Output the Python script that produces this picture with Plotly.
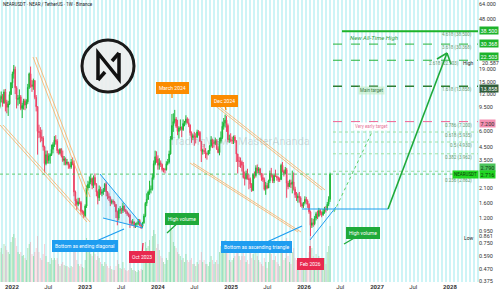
import math
import pandas as pd
import plotly.graph_objects as go

# ---------------- data (weekly NEAR/USDT) ----------------
first_open = 9.5
close = [
    11.0, 11.5, 10.2, 12.5, 10.3,      # 2021-11
    9.4, 10.0, 11.9, 14.8,             # 2021-12
    17.5, 19.0, 13.5, 10.9, 11.0,      # 2022-01
    11.4, 9.2, 9.7, 10.6,              # 2022-02
    9.8, 10.4, 13.6, 17.5,             # 2022-03
    14.3, 13.8, 15.4, 11.3,            # 2022-04
    9.5, 6.0, 5.9, 5.4, 5.3,           # 2022-05
    4.5, 3.3, 3.9, 3.5,                # 2022-06
    3.8, 3.9, 4.3, 4.7,                # 2022-07
    5.1, 5.0, 4.2, 4.0, 4.3,           # 2022-08
    3.8, 3.5, 3.6, 3.3,                # 2022-09
    3.4, 3.2, 3.1, 3.4, 3.3,           # 2022-10
    1.95, 1.65, 1.55, 1.62,            # 2022-11
    1.60, 1.35, 1.35, 1.25,            # 2022-12
    1.50, 2.10, 2.25, 2.35, 2.50,      # 2023-01
    2.20, 2.55, 2.25, 1.95,            # 2023-02
    1.75, 2.05, 1.90, 1.95,            # 2023-03
    2.00, 2.25, 1.95, 1.80,            # 2023-04
    1.75, 1.60, 1.65, 1.62, 1.55,      # 2023-05
    1.35, 1.20, 1.40, 1.40,            # 2023-06
    1.38, 1.50, 1.40, 1.35, 1.30,      # 2023-07
    1.27, 1.10, 1.10, 1.12,            # 2023-08
    1.05, 1.08, 1.08, 1.15,            # 2023-09
    1.05, 1.03, 1.10, 1.25, 1.58,      # 2023-10
    1.70, 1.95, 2.05, 2.05,            # 2023-11
    2.55, 3.30, 3.75, 3.60,            # 2023-12
    3.20, 3.35, 3.25, 2.95, 2.95,      # 2024-01
    2.95, 3.30, 3.40, 3.95,            # 2024-02
    5.20, 6.70, 7.20, 7.55,            # 2024-03
    6.60, 6.00, 6.40, 6.45, 6.20,      # 2024-04
    6.95, 7.10, 7.55, 7.05,            # 2024-05
    6.75, 5.85, 5.35, 5.55,            # 2024-06
    5.40, 5.40, 5.95, 5.90, 5.00,      # 2024-07
    4.15, 4.20, 4.15, 3.95,            # 2024-08
    3.95, 4.20, 4.60, 5.15, 4.90,      # 2024-09
    4.80, 5.05, 4.35, 4.05,            # 2024-10
    5.00, 5.35, 6.60, 7.00,            # 2024-11
    7.40, 6.70, 5.15, 5.20, 5.05,      # 2024-12
    5.05, 5.40, 5.05, 3.95,            # 2025-01
    3.45, 3.45, 3.40, 3.20,            # 2025-02
    2.55, 2.50, 2.75, 2.50, 2.45,      # 2025-03
    2.25, 2.00, 2.70, 2.65,            # 2025-04
    3.05, 2.90, 3.00, 2.75,            # 2025-05
    2.55, 2.45, 2.05, 2.20, 2.10,      # 2025-06
    2.40, 2.75, 2.65, 2.40,            # 2025-07
    2.65, 2.60, 2.55, 2.45,            # 2025-08
    2.45, 3.20, 2.85, 2.75, 2.95,      # 2025-09
    2.30, 2.15, 2.30, 2.25,            # 2025-10
    2.35, 2.05, 1.85, 1.75,            # 2025-11
    1.80, 1.75, 1.55, 1.50, 1.60,      # 2025-12
    1.70, 1.65, 1.55, 1.35,            # 2026-01
    1.05, 1.10, 1.08, 1.20,            # 2026-02
    1.30, 1.25, 1.38, 1.32, 1.28,      # 2026-03
    1.35, 1.42, 1.40, 1.55,            # 2026-04
    1.70, 2.716,                       # 2026-05
]
high = [
    11.8, 12.6, 12.0, 13.1, 13.2,
    10.8, 10.6, 12.6, 15.0,
    18.2, 20.587, 20.0, 13.9, 11.8,
    13.1, 11.8, 10.2, 11.0,
    11.0, 10.9, 14.5, 17.9,
    20.0, 15.6, 16.0, 15.6,
    11.8, 9.6, 6.8, 6.5, 6.2,
    5.5, 4.6, 4.2, 4.2,
    4.0, 4.0, 4.7, 4.9,
    5.5, 5.6, 5.2, 4.3, 4.4,
    4.4, 4.2, 3.8, 3.7,
    3.6, 3.4, 3.3, 3.6, 3.7,
    3.5, 2.0, 1.72, 1.75,
    1.75, 1.65, 1.4, 1.38,
    1.55, 2.20, 2.40, 2.60, 2.70,
    2.55, 2.65, 2.75, 2.30,
    2.00, 2.20, 2.15, 2.05,
    2.10, 2.30, 2.35, 1.98,
    1.90, 1.80, 1.70, 1.70, 1.65,
    1.55, 1.38, 1.45, 1.50,
    1.45, 1.60, 1.52, 1.42, 1.38,
    1.33, 1.30, 1.15, 1.18,
    1.12, 1.10, 1.12, 1.18,
    1.18, 1.08, 1.12, 1.30, 1.62,
    1.90, 2.00, 2.40, 2.20,
    2.75, 3.50, 4.20, 4.15,
    3.85, 3.65, 3.50, 3.30, 3.05,
    3.05, 3.45, 3.60, 4.20,
    5.50, 8.30, 8.40, 8.95,
    7.85, 7.45, 6.60, 7.50, 6.60,
    7.50, 7.30, 8.10, 7.80,
    7.60, 6.85, 6.00, 5.75,
    5.95, 5.80, 6.20, 6.15, 6.05,
    4.95, 4.35, 4.75, 4.40,
    4.05, 4.25, 4.65, 5.50, 5.25,
    5.15, 5.35, 5.20, 4.55,
    5.35, 6.00, 7.20, 7.70,
    8.20, 8.00, 6.95, 5.65, 5.80,
    5.45, 5.55, 5.60, 5.10,
    3.70, 3.75, 3.70, 3.50,
    3.40, 2.85, 2.90, 3.00, 2.70,
    2.55, 2.30, 2.75, 2.85,
    3.20, 3.25, 3.10, 3.05,
    2.75, 2.75, 2.55, 2.35, 2.30,
    2.45, 2.90, 3.05, 2.70,
    2.75, 2.95, 2.65, 2.60,
    2.55, 3.30, 3.40, 2.95, 3.10,
    3.05, 2.40, 2.45, 2.45,
    2.90, 2.80, 2.15, 1.95,
    1.90, 1.95, 1.80, 1.60, 1.62,
    1.80, 1.78, 1.70, 1.58,
    1.38, 1.20, 1.18, 1.25,
    1.35, 1.38, 1.45, 1.42, 1.36,
    1.42, 1.48, 1.50, 1.62,
    1.80, 2.79,
]
low = [
    9.2, 10.3, 9.5, 10.0, 8.7,
    8.4, 8.0, 9.8, 11.8,
    13.4, 16.0, 12.0, 9.2, 9.7,
    10.0, 8.9, 7.7, 9.0,
    8.9, 9.2, 10.0, 13.2,
    13.5, 12.5, 13.0, 10.9,
    8.7, 3.9, 5.3, 4.9, 5.0,
    4.2, 2.8, 3.2, 3.3,
    3.3, 3.3, 3.8, 4.0,
    4.5, 4.7, 4.0, 3.9, 3.9,
    3.7, 3.4, 3.2, 3.2,
    3.2, 3.0, 3.0, 3.0, 3.2,
    1.8, 1.5, 1.4, 1.5,
    1.55, 1.28, 1.28, 1.20,
    1.22, 1.45, 2.00, 2.10, 2.25,
    2.05, 2.10, 2.20, 1.80,
    1.55, 1.65, 1.85, 1.80,
    1.85, 1.95, 1.80, 1.70,
    1.65, 1.50, 1.55, 1.55, 1.48,
    1.20, 1.05, 1.15, 1.30,
    1.30, 1.32, 1.35, 1.30, 1.25,
    1.22, 1.00, 1.05, 1.06,
    1.00, 1.00, 1.04, 1.06,
    1.04, 0.98, 1.00, 1.08, 1.22,
    1.50, 1.68, 1.85, 1.90,
    2.00, 2.45, 3.20, 3.35,
    2.95, 2.95, 3.10, 2.85, 2.80,
    2.75, 2.90, 3.20, 3.30,
    3.90, 5.10, 5.95, 6.95,
    6.40, 5.60, 5.25, 6.10, 5.40,
    6.05, 6.60, 6.80, 6.95,
    6.50, 5.55, 4.85, 5.10,
    4.60, 4.80, 5.30, 5.55, 4.95,
    3.40, 3.90, 3.95, 3.65,
    3.55, 3.85, 3.95, 4.45, 4.40,
    4.45, 4.65, 4.25, 4.00,
    3.85, 4.80, 5.20, 6.20,
    6.45, 5.95, 4.90, 4.85, 4.90,
    4.75, 4.75, 4.85, 3.40,
    2.75, 3.10, 3.05, 2.85,
    2.50, 2.20, 2.45, 2.45, 2.05,
    2.10, 1.95, 2.00, 2.50,
    2.55, 2.75, 2.75, 2.65,
    2.40, 2.35, 2.00, 1.85, 2.05,
    2.10, 2.30, 2.55, 2.30,
    2.30, 2.60, 2.40, 2.35,
    2.35, 2.45, 2.80, 2.60, 2.70,
    1.75, 2.05, 2.15, 2.10,
    1.90, 2.00, 1.75, 1.65,
    1.60, 1.60, 1.48, 1.45, 1.45,
    1.55, 1.55, 1.45, 1.30,
    0.861, 1.00, 1.02, 1.05,
    1.15, 1.18, 1.22, 1.26, 1.22,
    1.25, 1.30, 1.33, 1.38,
    1.50, 1.62,
]
volume = [
    30, 34, 28, 38, 36,
    32, 30, 28, 40,
    45, 48, 44, 36, 30,
    28, 30, 26, 27,
    24, 22, 34, 38,
    40, 28, 26, 30,
    34, 46, 30, 24, 22,
    28, 38, 26, 20,
    20, 18, 24, 22,
    24, 22, 24, 18, 16,
    18, 20, 17, 16,
    16, 15, 14, 16, 15,
    40, 30, 22, 18,
    16, 18, 15, 14,
    22, 44, 36, 30, 28,
    26, 30, 28, 22,
    26, 24, 20, 18,
    16, 20, 18, 16,
    14, 16, 13, 12, 12,
    16, 22, 18, 14,
    13, 20, 14, 12, 11,
    12, 20, 14, 12,
    12, 11, 10, 12,
    11, 13, 12, 22, 40,
    34, 36, 42, 30,
    46, 52, 48, 34,
    38, 32, 26, 24, 20,
    18, 24, 22, 30,
    58, 52, 40, 36,
    34, 30, 28, 26, 22,
    24, 20, 28, 22,
    20, 22, 24, 18,
    18, 16, 20, 18, 22,
    30, 20, 22, 18,
    18, 16, 20, 26, 22,
    18, 20, 22, 18,
    30, 36, 40, 34,
    42, 36, 38, 22, 20,
    22, 24, 26, 32,
    36, 26, 22, 26,
    30, 26, 20, 22, 18,
    30, 24, 28, 22,
    34, 26, 22, 20,
    18, 16, 24, 20, 14,
    20, 30, 28, 22,
    22, 26, 20, 18,
    16, 34, 30, 22, 24,
    44, 26, 20, 18,
    30, 34, 24, 22,
    20, 22, 24, 16, 14,
    18, 20, 22, 30,
    46, 34, 26, 24,
    28, 22, 26, 20, 18,
    20, 24, 18, 30,
    36, 56,
]
assert len(close) == len(high) == len(low) == len(volume)

tick_prices = [64, 48, 19, 15, 12, 9.5, 6, 4.5, 3.5, 2.1, 1.6, 1.2,
               0.95, 0.861, 0.75, 0.59, 0.47, 0.375]
tick_labels = ["64.000", "48.000", "19.000", "15.000", "12.000", "9.500",
               "6.000", "4.500", "3.500", "2.100", "1.600", "1.200", "0.950",
               "0.861", "0.750", "0.590", "0.470", "0.375"]
high_label = "20.587"

fib_ratio = ["4.618", "3.618", "2.618", "1.618", "0.786", "0.618", "0.5", "0.382", "0.236"]
fib_price = [38.5, 30.368, 22.503, 13.858, 7.2, 5.935, 4.930, 3.962, 2.862]

x_tick_dates = ["2022-01-01", "2022-07-01", "2023-01-01", "2023-07-01", "2024-01-01",
                "2024-07-01", "2025-01-01", "2025-07-01", "2026-01-01", "2026-07-01",
                "2027-01-01", "2027-07-01", "2028-01-01"]
x_tick_text = ["<b>2022</b>", "Jul", "<b>2023</b>", "Jul", "<b>2024</b>", "Jul",
               "<b>2025</b>", "Jul", "<b>2026</b>", "Jul", "<b>2027</b>", "Jul", "<b>2028</b>"]

# ---------------- derived ----------------
dates = pd.date_range("2021-11-01", periods=len(close), freq="W-MON")
opens = [first_open] + close[:-1]
high = [max(h, o, c) for h, o, c in zip(high, opens, close)]
low = [min(l, o, c) for l, o, c in zip(low, opens, close)]

UP, DN = "#1cb83a", "#ee4466"
vol_colors = ["rgba(60,190,80,0.42)" if c >= o else "rgba(240,100,120,0.32)"
              for o, c in zip(opens, close)]

# ---------------- geometry helpers ----------------
W, H = 500, 295
ML, MR, MT, MB = 0, 22, 0, 13
PW, PH = W - ML - MR, H - MT - MB
LOG_TOP, LOG_BOT = 1.838, -0.436
PX_PER_DEC = PH / (LOG_TOP - LOG_BOT)


def P(x, y):
    return x / PW, 1 - y / PH


def ypx(price):
    return (LOG_TOP - math.log10(price)) * PX_PER_DEC


fig = go.Figure()
fig.add_trace(go.Bar(x=dates, y=volume, marker=dict(color=vol_colors, line=dict(width=0)),
                     yaxis="y", xaxis="x", showlegend=False, hoverinfo="skip"))
fig.add_trace(go.Candlestick(
    x=dates, open=opens, high=high, low=low, close=close, yaxis="y2", xaxis="x",
    increasing=dict(line=dict(color=UP, width=1), fillcolor=UP),
    decreasing=dict(line=dict(color=DN, width=1), fillcolor=DN),
    whiskerwidth=0, showlegend=False))

shapes = []
# background stripes
for i in range(0, PW // 4 + 1):
    x0 = 4 * i + 1
    shapes.append(dict(type="rect", xref="paper", yref="paper", layer="below",
                       x0=x0 / PW, x1=(x0 + 2) / PW, y0=0, y1=1,
                       fillcolor="#cdf4f6", line=dict(width=0)))


def seg(p0, p1, color, width=1, dash="solid"):
    a, b = P(*p0), P(*p1)
    return dict(type="line", xref="paper", yref="paper", x0=a[0], y0=a[1], x1=b[0], y1=b[1],
                line=dict(color=color, width=width, dash=dash))


def path(pts, close_path=False):
    s = ""
    for i, (x, y) in enumerate(pts):
        px, py = P(x, y)
        s += ("M" if i == 0 else "L") + f"{px:.5f},{py:.5f} "
    return s + ("Z" if close_path else "")


def hline(price, x0px, color, width, dash):
    yy = 1 - ypx(price) / PH
    return dict(type="line", xref="paper", yref="paper", x0=x0px / PW, x1=1, y0=yy, y1=yy,
                line=dict(color=color, width=width, dash=dash))


ORG = "rgba(255,160,70,0.85)"
for dx in (0, 3):
    shapes.append(seg((33 + dx, 57), (87 + dx, 197), ORG, 0.8))
    shapes.append(seg((0 + dx, 125), (87 + dx, 222), ORG, 0.8))
    shapes.append(seg((213 + dx, 104), (322 + dx, 190), ORG, 0.8))
    shapes.append(seg((190 + dx, 163), (298 + dx, 232), ORG, 0.8))

BLU = "#1e9df0"
shapes.append(dict(type="path", xref="paper", yref="paper",
                   path=path([(100, 174), (143, 226), (143, 228), (103, 218)], True),
                   fillcolor="rgba(30,157,240,0.10)", line=dict(width=0)))
shapes.append(seg((100, 174), (143, 226), BLU, 1))
shapes.append(seg((103, 218), (143, 228), BLU, 1))
shapes.append(seg((302, 209), (388, 209), BLU, 1.2))
shapes.append(seg((310, 240), (336, 207), BLU, 1))

# last price line
shapes.append(hline(close[-1], 0, "#3fbf4f", 0.8, "dot"))

# fib levels
fib_style = {
    "4.618": ("#1db32a", 2, "solid"), "3.618": ("#27b23a", 1, "dash"),
    "2.618": ("#27b23a", 1, "dash"), "1.618": ("#2e7d32", 1.5, "dash"),
    "0.786": ("#f06292", 1, "dash"), "0.618": ("#8bd88f", 0.8, "dot"),
    "0.5": ("#8bd88f", 0.8, "dot"), "0.382": ("#8bd88f", 0.8, "dot"),
    "0.236": ("#8bd88f", 0.8, "dot"),
}
for r, p in zip(fib_ratio, fib_price):
    col, wd, ds = fib_style[r]
    shapes.append(hline(p, 342 if r == "4.618" else 333, col, wd, ds))

# projection lines
GRN = "#1faa3a"
shapes.append(seg((334, 212), (372, 132), "#5fcf6a", 1, "dot"))
shapes.append(seg((388, 209), (447, 53), GRN, 1.6))
shapes.append(seg((447, 53), (437, 59), GRN, 1.6))
shapes.append(seg((447, 53), (451, 64), GRN, 1.6))

# NEAR logo
c0, c1 = P(82, 92), P(134, 40)
shapes.append(dict(type="circle", xref="paper", yref="paper", x0=c0[0], y0=c0[1],
                   x1=c1[0], y1=c1[1], fillcolor="rgba(236,238,238,0.92)",
                   line=dict(color="#1a1a1a", width=3)))
shapes.append(dict(type="path", xref="paper", yref="paper",
                   path=path([(98, 80), (98, 53), (119, 79), (119, 53)]),
                   line=dict(color="#111", width=3.5)))
shapes.append(dict(type="path", xref="paper", yref="paper",
                   path=path([(98, 80), (105, 72)]), line=dict(color="#111", width=3.5)))
shapes.append(dict(type="path", xref="paper", yref="paper",
                   path=path([(119, 53), (112, 61)]), line=dict(color="#111", width=3.5)))

ann = []
FONT = "Roboto"


def txt(text, x, y, size=5, color="#333", xanchor="left", bg=None, **kw):
    px, py = P(x, y)
    d = dict(text=text, x=px, y=py, xref="paper", yref="paper", showarrow=False,
             xanchor=xanchor, yanchor="middle", font=dict(size=size, color=color, family=FONT))
    if bg:
        d.update(bgcolor=bg, borderpad=1)
    d.update(kw)
    return d


def callout(text, box, tip, bg):
    tx, ty = P(*tip)
    return dict(text=text, x=tx, y=ty, xref="paper", yref="paper",
                ax=box[0] - tip[0], ay=box[1] - tip[1], showarrow=True, arrowhead=0,
                arrowwidth=1.3, arrowcolor=bg, bgcolor=bg, bordercolor=bg, borderpad=2,
                font=dict(size=5, color="white", family=FONT))


ann.append(txt("NEARUSDT · NEAR / TetherUS · 1W · Binance", 1, 5, size=4.5, color="#131722"))
ann.append(txt("TradingView · MasterAnanda", 239, 141, size=11,
               color="rgba(130,130,130,0.28)", xanchor="center"))

ORANGE, RED = "#fb8c00", "#e8294f"
ann.append(callout("March 2024", (172, 88), (172, 98), ORANGE))
ann.append(callout("Dec 2024", (224, 101), (226, 110), ORANGE))
ann.append(callout("Bottom as ending diagonal", (85, 246), (124, 229), BLU))
ann.append(callout("Oct 2023", (142, 257), (143, 243), RED))
ann.append(callout("High volume", (182, 219), (167, 233), GRN))
ann.append(callout("Bottom as ascending triangle", (256, 247), (302, 226), BLU))
ann.append(callout("Feb 2026", (310, 264), (310, 246), RED))
ann.append(callout("High volume", (363, 233), (344, 244), GRN))

ann.append(txt("<i>New All-Time High</i>", 348, 37, size=6, color="#2e9e40"))
ann.append(txt("Main target", 358, 90, size=4.5, color="#3b7a45", bg="rgba(190,235,195,0.6)"))
ann.append(txt("Very early target", 353, 126, size=4.5, color="#e5739a", bg="white"))

# fib labels
for r, p in zip(fib_ratio, fib_price):
    yl = ypx(p) + (9 if r == "0.236" else 3.5)
    xr = 461 if r == "2.618" else 474
    ann.append(dict(text=f"{r} ({p:.3f})", x=xr / PW, y=1 - yl / PH, xref="paper", yref="paper",
                    showarrow=False, xanchor="right", yanchor="middle",
                    font=dict(size=4.5, color="#6a9a70", family=FONT)))

ann.append(txt("High", 476, 63, size=5, color="#222", xanchor="right"))
ann.append(txt("Low", 476, 238, size=5, color="#222", xanchor="right"))
ann.append(dict(text=high_label, x=1 + 2 / PW, y=1 - 63 / PH, xref="paper", yref="paper",
                showarrow=False, xanchor="left", yanchor="middle",
                font=dict(size=5.5, color="#333", family=FONT)))


def axbox(text, ypos, bg, fc="white"):
    return dict(text=text, x=1 + 1 / PW, y=1 - ypos / PH, xref="paper", yref="paper",
                showarrow=False, xanchor="left", yanchor="middle", bgcolor=bg, borderpad=0.5,
                font=dict(size=5.5, color=fc, family=FONT))


ann.append(axbox("38.500", 31, "#1db32a"))
ann.append(axbox("30.368", 43, "#1db32a"))
ann.append(axbox("22.503", 56, "#1db32a"))
ann.append(axbox("13.858", 88, "#2f5d3a"))
ann.append(axbox("7.200", 123, "#f48fb1", "#333"))
ann.append(axbox("2.790", 167, "#4cc35a", "#0b3d0b"))
ann.append(axbox("2.716", 174, "#22d622", "#0b3d0b"))
ann.append(txt("NEARUSDT", 452, 174, size=4.5, color="#0b3d0b", bg="#22d622"))

fig.update_layout(
    width=W, height=H, autosize=False,
    margin=dict(l=ML, r=MR, t=MT, b=MB, pad=0),
    paper_bgcolor="white", plot_bgcolor="white",
    font=dict(family=FONT, size=6, color="#333"),
    showlegend=False, bargap=0.35,
    xaxis=dict(type="date", range=["2021-11-02", "2028-05-20"], rangeslider=dict(visible=False),
               tickmode="array", tickvals=x_tick_dates, ticktext=x_tick_text,
               tickfont=dict(size=6, color="#333"), showgrid=False, zeroline=False,
               showline=False, ticks=""),
    yaxis=dict(range=[0, PH], visible=False, fixedrange=True),
    yaxis2=dict(type="log", range=[LOG_BOT, LOG_TOP], overlaying="y", side="right",
                tickmode="array", tickvals=tick_prices, ticktext=tick_labels,
                tickfont=dict(size=5.5, color="#333"), showgrid=False, zeroline=False,
                showline=False, ticks=""),
    shapes=shapes, annotations=ann,
)

fig.write_html("out.html")
